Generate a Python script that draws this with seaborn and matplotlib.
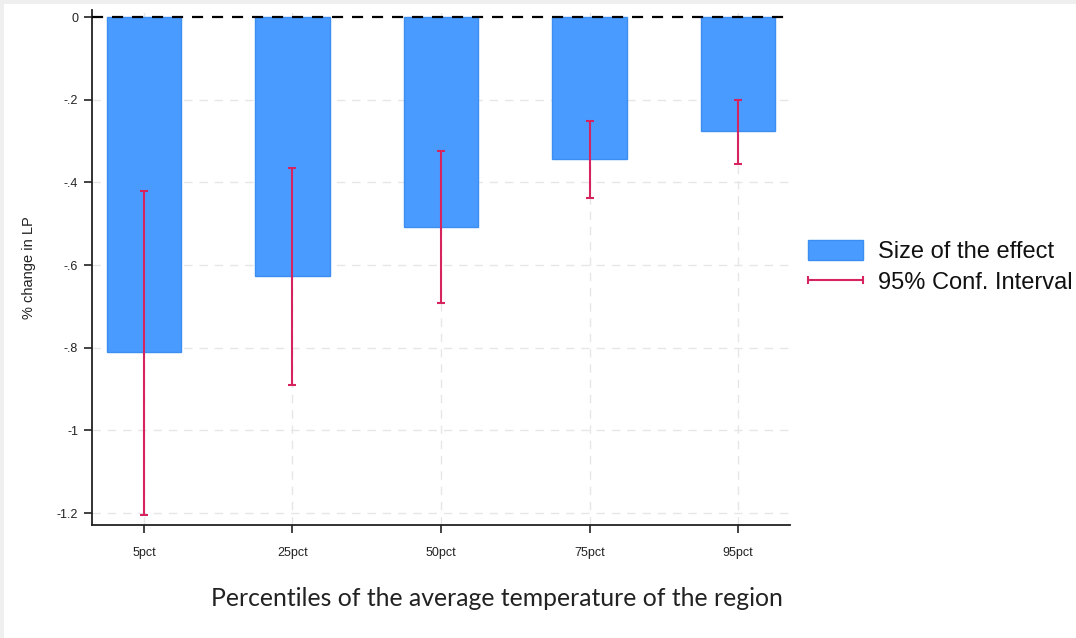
import matplotlib
matplotlib.use("Agg")
import matplotlib.pyplot as plt
import seaborn as sns
import pandas as pd
from matplotlib.patches import Patch, Rectangle
from matplotlib.lines import Line2D
from matplotlib.legend_handler import HandlerLine2D

categories = ["5pct", "25pct", "50pct", "75pct", "95pct"]
effect = [-0.811, -0.626, -0.508, -0.344, -0.276]
ci_low = [-1.205, -0.890, -0.692, -0.438, -0.356]
ci_high = [-0.421, -0.365, -0.324, -0.252, -0.201]
yticks = [0, -0.2, -0.4, -0.6, -0.8, -1.0, -1.2]
ytick_labels = ["0", "-.2", "-.4", "-.6", "-.8", "-1", "-1.2"]

sns.set_theme(style="white")
plt.rcParams["font.family"] = ["Liberation Sans", "DejaVu Sans"]

BAR = "#4a9bff"
BAR_EDGE = "#3d8ef0"
ERR = "#d6245f"

fig = plt.figure(figsize=(10.76, 6.38), dpi=100, facecolor="white")
fig.patches.append(Rectangle((0, 1 - 4 / 638), 1, 4 / 638, transform=fig.transFigure,
                             facecolor="#efefef", edgecolor="none", zorder=0))
fig.patches.append(Rectangle((0, 0), 4 / 1076, 1, transform=fig.transFigure,
                             facecolor="#efefef", edgecolor="none", zorder=0))

ax = fig.add_axes([92 / 1076, 1 - 525 / 638, (790 - 92) / 1076, (525 - 10) / 638])

df = pd.DataFrame({"cat": categories, "effect": effect})
sns.barplot(data=df, x="cat", y="effect", ax=ax, color=BAR, saturation=1,
            width=0.5, errorbar=None, edgecolor=BAR_EDGE, linewidth=1, zorder=2)

x = list(range(len(categories)))
mid = [(l + h) / 2 for l, h in zip(ci_low, ci_high)]
half = [(h - l) / 2 for l, h in zip(ci_low, ci_high)]
ax.errorbar(x, mid, yerr=half, fmt="none", ecolor=ERR, elinewidth=1.5,
            capsize=3, capthick=1.5, zorder=3)

ax.axhline(0, color="black", linestyle=(0, (5, 4)), linewidth=1.6, zorder=4)

ax.set_xlim(-0.35, 4.35)
ax.set_ylim(-1.229, 0.017)
ax.set_yticks(yticks)
ax.set_yticklabels(ytick_labels)

for yv in yticks[1:]:
    ax.axhline(yv, color="#e6e6e6", linestyle=(0, (6, 5)), linewidth=1, zorder=0)
for xv in x:
    ax.axvline(xv, color="#e6e6e6", linestyle=(0, (6, 5)), linewidth=1, zorder=0)

for s in ["top", "right"]:
    ax.spines[s].set_visible(False)
for s in ["left", "bottom"]:
    ax.spines[s].set_color("#222222")
    ax.spines[s].set_linewidth(1.3)

ax.tick_params(axis="both", which="major", length=6, width=1.2, color="#222222",
               labelsize=9, labelcolor="#222222", left=True, bottom=True)
ax.tick_params(axis="x", pad=10)
ax.tick_params(axis="y", pad=4)

ax.set_xlabel("")
ax.set_ylabel("% change in LP", fontsize=10.5, color="#222222", labelpad=15)

fig.text(497 / 1076, 1 - 598 / 638, "Percentiles of the average temperature of the region",
         ha="center", va="center", fontsize=17.8, color="#222222",
         family=["Lato", "DejaVu Sans"])

ci_handle = Line2D([0, 1], [0, 0], color=ERR, linewidth=1.5, marker="|", markersize=6,
                   markeredgewidth=1.5)
handles = [Patch(facecolor=BAR, edgecolor=BAR_EDGE, linewidth=1), ci_handle]
leg = fig.legend(handles, ["Size of the effect", "95% Conf. Interval"],
                 loc="center left", bbox_to_anchor=(808 / 1076, 1 - 267 / 638),
                 frameon=False, fontsize=17, handlelength=2.35, handleheight=0.95,
                 handletextpad=0.6, labelspacing=0.35, numpoints=2,
                 borderpad=0, borderaxespad=0, labelcolor="#111111",
                 handler_map={ci_handle: HandlerLine2D(marker_pad=0, numpoints=2)})

fig.savefig("out.png", dpi=100, facecolor="white")
